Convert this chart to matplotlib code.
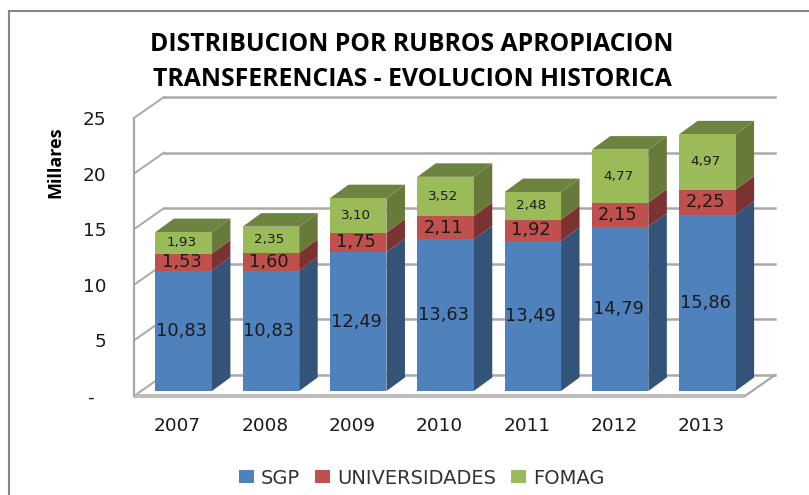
import matplotlib
matplotlib.use("Agg")
import matplotlib.pyplot as plt
from matplotlib.lines import Line2D
from matplotlib.patches import Polygon
import numpy as np

years = ["2007", "2008", "2009", "2010", "2011", "2012", "2013"]
sgp = [10.83, 10.83, 12.49, 13.63, 13.49, 14.79, 15.86]
universidades = [1.53, 1.60, 1.75, 2.11, 1.92, 2.15, 2.25]
fomag = [1.93, 2.35, 3.10, 3.52, 2.48, 4.77, 4.97]
series_names = ["SGP", "UNIVERSIDADES", "FOMAG"]
y_ticks = [0, 5, 10, 15, 20, 25]
y_tick_labels = ["-  ", "5", "10", "15", "20", "25"]
title = "DISTRIBUCION POR RUBROS APROPIACION\nTRANSFERENCIAS - EVOLUCION HISTORICA"

W, H = 809, 495
fig = plt.figure(figsize=(W / 100, H / 100), dpi=100, facecolor="white")
L, R, T, B = 134, 745, 118, 396
ax = fig.add_axes([L / W, 1 - B / H, (R - L) / W, (B - T) / H])
ax.set_xlim(-0.5, 6.5)
ax.set_ylim(0, 25)
ax.patch.set_visible(False)

px_x = (R - L) / 7       # pixels per category
px_y = (B - T) / 25      # pixels per unit
wall_dx, wall_dy = 30 / px_x, 21 / px_y
bar_w = 56.5 / px_x
bar_dx, bar_dy = 18.5 / px_x, 13.5 / px_y
off_x, off_y = 6 / px_x, 5 / px_y

grid_c = "#A9A9A9"
for v in y_ticks:
    ax.plot([-0.5, -0.5 + wall_dx], [v, v + wall_dy], color=grid_c, lw=1.4, clip_on=False, zorder=1)
    ax.plot([-0.5 + wall_dx, 6.5 + wall_dx], [v + wall_dy, v + wall_dy], color=grid_c, lw=1.8, clip_on=False, zorder=1)
ax.plot([6.5, 6.5 + wall_dx], [0, wall_dy], color=grid_c, lw=1.6, clip_on=False, zorder=1)
ax.plot([-0.5, 6.5], [0, 0], color="#BDBDBD", lw=3, clip_on=False, zorder=1.5, solid_capstyle="butt")
ax.plot([-0.5, -0.5], [0, 25], color=grid_c, lw=1.6, clip_on=False, zorder=1.5)

styles = [
    ("#4F81BD", "#335378", "#3F6797"),
    ("#C0504D", "#7C3230", "#9A403E"),
    ("#9BBB59", "#677A3A", "#6D8340"),
]
label_sizes = [12.8, 12.8, 9.7]
x = np.arange(len(years)) + off_x
bottom = np.zeros(len(years))
handles = []
for k, vals in enumerate([sgp, universidades, fomag]):
    vals = np.array(vals)
    fc, side, top = styles[k]
    cont = ax.bar(x, vals, bar_w, bottom=bottom + off_y, color=fc, label=series_names[k],
                  clip_on=False, zorder=3)
    handles.append(cont)
    for i in range(len(years)):
        rx = x[i] + bar_w / 2
        y0 = bottom[i] + off_y
        y1 = y0 + vals[i]
        ax.add_patch(Polygon([(rx, y0), (rx + bar_dx, y0 + bar_dy), (rx + bar_dx, y1 + bar_dy), (rx, y1)],
                             closed=True, fc=side, ec="none", clip_on=False, zorder=2.5))
        if k == 2:
            lx = x[i] - bar_w / 2
            ax.add_patch(Polygon([(lx, y1), (rx, y1), (rx + bar_dx, y1 + bar_dy), (lx + bar_dx, y1 + bar_dy)],
                                 closed=True, fc=top, ec="none", clip_on=False, zorder=2.5))
        ax.annotate(f"{vals[i]:.2f}".replace(".", ","), (x[i], y0 + vals[i] / 2),
                    xytext=(-1.5, 0), textcoords="offset points", ha="center", va="center",
                    fontsize=label_sizes[k], color="#1a1a1a", zorder=5, family="DejaVu Sans")
    bottom = bottom + vals

for s in ax.spines.values():
    s.set_visible(False)
ax.set_xticks(np.arange(len(years)))
ax.set_xticklabels(years, fontsize=13.3, color="#1a1a1a")
ax.set_yticks(y_ticks)
ax.set_yticklabels(y_tick_labels, fontsize=13.3, color="#1a1a1a")
ax.tick_params(axis="x", length=0, pad=15)
ax.tick_params(axis="y", length=0, pad=20)

ax.set_ylabel("Millares", fontsize=13, fontweight="bold", family="Open Sans")
ax.yaxis.set_label_coords((64 - L) / (R - L), (B - 162) / (B - T))

fig.text(412 / W, 1 - 62 / H, title, ha="center", va="center", fontsize=17.8, fontweight="bold",
         family="Open Sans", color="black", linespacing=1.48)

fig.legend(handles=handles, loc="center left", bbox_to_anchor=(239 / W, 1 - 478 / H), ncol=3,
           frameon=False, fontsize=14, handlelength=0.77, handleheight=0.62, handletextpad=0.36,
           columnspacing=0.77, borderpad=0, borderaxespad=0, labelcolor="#333333")

fc = "#868686"
fig.add_artist(Line2D([9 / W, 9 / W], [0, 1 - 11 / H], color=fc, lw=1.5))
fig.add_artist(Line2D([9 / W, 1], [1 - 11 / H, 1 - 11 / H], color=fc, lw=1.5))

fig.savefig("out.png", dpi=100, facecolor="white")
